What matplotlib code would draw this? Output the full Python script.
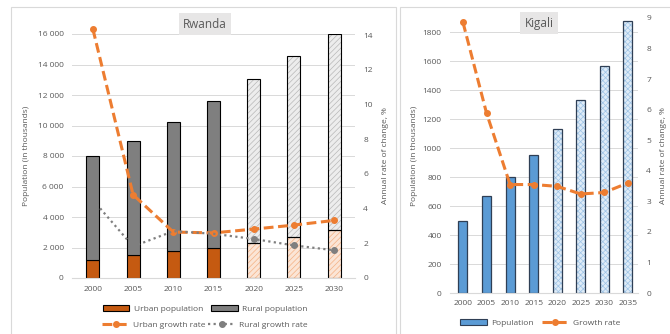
import matplotlib.pyplot as plt
import numpy as np
from matplotlib.patches import Rectangle, Patch
from matplotlib.lines import Line2D
from matplotlib.ticker import FuncFormatter

# Rwanda data (thousands / % per year)
rw_years = ['2000', '2005', '2010', '2015', '2020', '2025', '2030']
rw_urban = [1200, 1525, 1745, 1965, 2290, 2680, 3160]
rw_rural = [6820, 7455, 8500, 9650, 10790, 11880, 12840]
rw_urban_rate = [14.35, 4.8, 2.65, 2.6, 2.82, 3.05, 3.32]
rw_rural_rate = [4.5, 1.82, 2.7, 2.55, 2.25, 1.88, 1.6]
rw_projected = [False, False, False, False, True, True, True]

# Kigali data
kg_years = ['2000', '2005', '2010', '2015', '2020', '2025', '2030', '2035']
kg_pop = [500, 667, 798, 954, 1133, 1331, 1568, 1878]
kg_rate = [8.86, 5.89, 3.55, 3.55, 3.49, 3.24, 3.29, 3.6]
kg_projected = [False, False, False, False, True, True, True, True]

plt.rcParams['font.family'] = ['Open Sans', 'DejaVu Sans']
plt.rcParams['hatch.linewidth'] = 0.5
TXT = '#595959'
GRID = '#d9d9d9'
ORANGE = '#ed7d31'
DASH = (0, (3.2, 1.5))
FS = 6

W, H = 670, 334
fig = plt.figure(figsize=(W / 100, H / 100), dpi=100)
fig.patch.set_facecolor('white')

# panel frames
fig.add_artist(Rectangle((11 / W, -0.05), (396 - 11) / W, 1.05 - 7 / H,
                         transform=fig.transFigure, fill=False, edgecolor='#d9d9d9', lw=0.8))
fig.add_artist(Rectangle((400 / W, -0.05), 0.5, 1.05 - 7 / H,
                         transform=fig.transFigure, fill=False, edgecolor='#d9d9d9', lw=0.8))


def style_axes(ax, ax2):
    for a in (ax, ax2):
        for s in a.spines.values():
            s.set_visible(False)
        a.tick_params(length=0, labelsize=FS, labelcolor=TXT, pad=6)
    ax.spines['bottom'].set_visible(True)
    ax.spines['bottom'].set_color(GRID)
    ax.grid(axis='y', color=GRID, lw=0.7)
    ax.set_axisbelow(True)


# ---------- Rwanda ----------
ax = fig.add_axes([72 / W, (H - 278) / H, (355 - 72) / W, (278 - 34) / H])
ax2 = ax.twinx()
x = np.arange(len(rw_years))
bw = 0.32
for i in x:
    if rw_projected[i]:
        ax.bar(i, rw_urban[i], bw, color='#fbe5d6', hatch='//////', edgecolor='#f4b183', lw=0)
        ax.bar(i, rw_rural[i], bw, bottom=rw_urban[i], color='#ededed', hatch='//////',
               edgecolor='#b8b8b8', lw=0)
        ax.bar(i, rw_urban[i], bw, fill=False, edgecolor='black', lw=0.8)
        ax.bar(i, rw_rural[i], bw, bottom=rw_urban[i], fill=False, edgecolor='black', lw=0.8)
    else:
        ax.bar(i, rw_urban[i], bw, color='#c55a11', edgecolor='black', lw=0.8)
        ax.bar(i, rw_rural[i], bw, bottom=rw_urban[i], color='#7f7f7f', edgecolor='black', lw=0.8)

ax2.plot(x, rw_urban_rate, color=ORANGE, ls=DASH, lw=2.2, marker='o', ms=4, clip_on=False)
ax2.plot(x, rw_rural_rate, color='#7f7f7f', ls=(0, (1, 1.5)), lw=1.6, marker='o', ms=4,
         markevery=[4, 5, 6])

ax.set_xlim(-0.52, 6.52)
ax.set_ylim(0, 16000)
ax.set_yticks(range(0, 16001, 2000))
ax.yaxis.set_major_formatter(FuncFormatter(lambda v, p: f'{int(v):,}'.replace(',', ' ')))
ax2.set_ylim(0, 14.07)
ax2.set_yticks(range(0, 15, 2))
ax.set_xticks(x)
ax.set_xticklabels(rw_years)
style_axes(ax, ax2)
ax.set_ylabel('Population (in thousands)', fontsize=FS, color=TXT)
ax2.set_ylabel('Annual rate of change, %', fontsize=FS, color=TXT)
ax.yaxis.set_label_coords(-0.15, 0.5)
ax2.yaxis.set_label_coords(1.095, 0.5)

fig.text(205 / W, 1 - 24 / H, 'Rwanda', ha='center', va='center', fontsize=8.5, color=TXT,
         bbox=dict(boxstyle='square,pad=0.35', fc='#e7e6e6', ec='none'))

h1 = [Patch(fc='#c55a11', ec='black', lw=0.8), Patch(fc='#7f7f7f', ec='black', lw=0.8)]
fig.legend(h1, ['Urban population', 'Rural population'], loc='center', ncol=2,
           bbox_to_anchor=(205 / W, 1 - 309 / H), frameon=False, fontsize=FS,
           labelcolor=TXT, handlelength=3.2, handleheight=0.7, columnspacing=1.0, handletextpad=0.5)
h2 = [Line2D([], [], color=ORANGE, ls=DASH, lw=2.2, marker='o', ms=4),
      Line2D([], [], color='#7f7f7f', ls=(0, (1, 1.5)), lw=1.6, marker='o', ms=4)]
fig.legend(h2, ['Urban growth rate', 'Rural growth rate'], loc='center', ncol=2,
           bbox_to_anchor=(205 / W, 1 - 325 / H), frameon=False, fontsize=FS,
           labelcolor=TXT, handlelength=3.2, columnspacing=0.3, handletextpad=0.5)

# ---------- Kigali ----------
bx = fig.add_axes([450 / W, (H - 293) / H, (638 - 450) / W, (293 - 18) / H])
bx2 = bx.twinx()
xk = np.arange(len(kg_years))
bwk = 0.38
for i in xk:
    if kg_projected[i]:
        bx.bar(i, kg_pop[i], bwk, color='#deebf7', hatch='xxxxxx', edgecolor='#9dc3e6', lw=0)
        bx.bar(i, kg_pop[i], bwk, fill=False, edgecolor='#2f3f55', lw=0.9)
    else:
        bx.bar(i, kg_pop[i], bwk, color='#5b9bd5', edgecolor='#2f3f55', lw=0.9)
bx2.plot(xk, kg_rate, color=ORANGE, ls=DASH, lw=2.2, marker='o', ms=4, clip_on=False)

bx.set_xlim(-0.55, 7.43)
bx.set_ylim(0, 1899)
bx.set_yticks(range(0, 1801, 200))
bx2.set_ylim(0, 9)
bx2.set_yticks(range(0, 10))
bx.set_xticks(xk)
bx.set_xticklabels(kg_years)
style_axes(bx, bx2)
bx.tick_params(axis='x', pad=5)
bx.set_ylabel('Population (in thousands)', fontsize=FS, color=TXT)
bx2.set_ylabel('Annual rate of change, %', fontsize=FS, color=TXT)
bx.yaxis.set_label_coords(-0.17, 0.5)
bx2.yaxis.set_label_coords(1.115, 0.5)

fig.text(539 / W, 1 - 23 / H, 'Kigali', ha='center', va='center', fontsize=8.5, color=TXT,
         bbox=dict(boxstyle='square,pad=0.35', fc='#e7e6e6', ec='none'))

h3 = [Patch(fc='#5b9bd5', ec='#2f3f55', lw=0.8),
      Line2D([], [], color=ORANGE, ls=DASH, lw=2.2, marker='o', ms=4)]
fig.legend(h3, ['Population', 'Growth rate'], loc='center', ncol=2,
           bbox_to_anchor=(540 / W, 1 - 323 / H), frameon=False, fontsize=FS,
           labelcolor=TXT, handlelength=3.2, handleheight=0.7, columnspacing=1.0, handletextpad=0.5)

fig.savefig('out.png', dpi=100, facecolor='white')
